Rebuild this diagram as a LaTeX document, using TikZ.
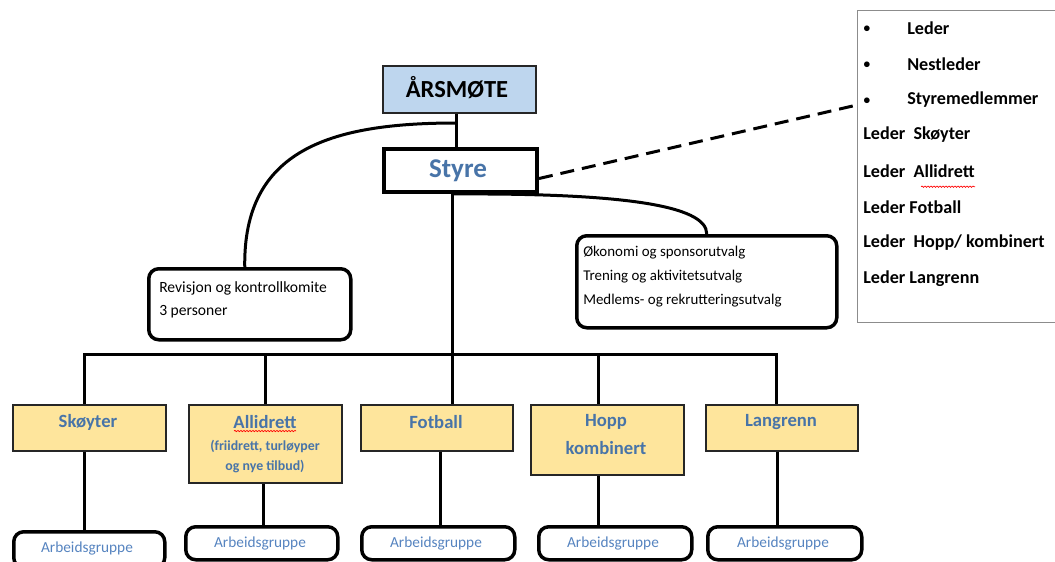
\documentclass[tikz,border=0pt]{standalone}
\usepackage{fontspec}
\setmainfont{Carlito}
\usetikzlibrary{decorations.pathmorphing}
\newdimen\px \px=0.75pt
\definecolor{tblue}{RGB}{72,116,168}
\definecolor{lblue}{RGB}{86,132,192}
\definecolor{afill}{RGB}{190,214,238}
\definecolor{yfill}{RGB}{254,229,156}
\newcommand{\fsz}[1]{\fontsize{#1}{#1}\selectfont}
\begin{document}
\begin{tikzpicture}[x=0.75pt,y=-0.75pt,
  plainbox/.style={rectangle, draw=black!85, line width=1.5\px, inner sep=0pt, anchor=north west},
  aarsbox/.style={plainbox, fill=afill},
  ybox/.style={plainbox, fill=yfill},
  styrebox/.style={rectangle, draw=black, line width=4\px, inner sep=0pt, anchor=north west, fill=white},
  rbox/.style={rectangle, draw=black, line width=3.5\px, rounded corners=10\px, inner sep=0pt, anchor=north west, fill=white},
  agbox/.style={rbox, minimum height=33\px},
  conn/.style={line width=3\px, black},
  ytext/.style={font=\fsz{14}\bfseries, text=tblue, inner sep=0pt},
  ysub/.style={font={\fontsize{10.4}{15}\selectfont\bfseries}, text=tblue, inner sep=0pt, align=center},
  agtext/.style={font=\fsz{11.5}, text=lblue, inner sep=0pt},
  ptext/.style={font=\fsz{13.6}\bfseries, inner sep=0pt, anchor=west},
  bul/.style={font=\fsz{10}\bfseries, inner sep=0pt},
  spell/.style={red, line width=0.5pt, decorate, decoration={snake, amplitude=0.7\px, segment length=3\px}}
]
\useasboundingbox (0,0) rectangle (1055,561);

% ---------- x positions of the vertical connectors ----------
\coordinate (xa) at (456,0);
\coordinate (xs) at (452,0);
\coordinate (x1) at (84,0);
\coordinate (x2) at (265,0);
\coordinate (x2b) at (263,0);
\coordinate (x3b) at (440,0);
\coordinate (x4) at (598,0);
\coordinate (x5) at (776,0);
\coordinate (x5b) at (777,0);

% ---------- top ----------
\node[aarsbox, minimum width=153\px, minimum height=47\px] (aars) at (382,65) {};
\node[font=\fsz{18.4}\bfseries, inner sep=0pt] (aarst) at (457,88) {ÅRSMØTE};

\node[styrebox, minimum width=153\px, minimum height=43\px] (styre) at (382,147) {};
\node[font=\fsz{20.3}\bfseries, text=tblue, inner sep=0pt] (styret) at (458,171) {Styre};

\coordinate (j1) at (456,123);
\draw[conn] (aars.south -| xa) -- (styre.north -| xa);

% ---------- committees ----------
\node[rbox, minimum width=202\px, minimum height=71\px] (rev) at (147,267) {};
\node[inner sep=0pt, anchor=west, align=left, font={\fontsize{11.7}{17.25}\selectfont}] (revt) at (159,300)
  {Revisjon og kontrollkomite\\3 personer};

\node[rbox, minimum width=260\px, minimum height=92\px] (eko) at (575,234) {};
\node[inner sep=0pt, anchor=west, align=left, font={\fontsize{11.2}{18}\selectfont}] (ekot) at (583,277)
  {Økonomi og sponsorutvalg\\Trening og aktivitetsutvalg\\Medlems- og rekrutteringsutvalg};

\draw[conn] (j1) .. controls (330,123) and (243,150) .. ([xshift=-5\px]rev.north);
\draw[conn] (styre.south -| xs) .. controls (620,193) and (707,205) .. (eko.north);

% ---------- right panel ----------
\node[rectangle, draw=black!45, line width=1\px, inner sep=0pt, anchor=north west,
      minimum width=205\px, minimum height=312\px] (panel) at (857,10) {};
\node[bul] (b1) at (867,29) {•};
\node[ptext] (p1) at (907,28) {Leder};
\node[bul] (b2) at (867,65) {•};
\node[ptext] (p2) at (907,64) {Nestleder};
\node[bul] (b3) at (867,101) {•};
\node[ptext] (p3) at (907,100) {Styremedlemmer};
\node[ptext] (p4) at (863,135) {Leder\space\space Skøyter};
\node[ptext] (p5) at (863,171) {Leder\space\space Allidrett};
\node[ptext] (p6) at (863,207) {Leder Fotball};
\node[ptext] (p7) at (863,243) {Leder\space\space Hopp/ kombinert};
\node[ptext] (p8) at (863,279) {Leder Langrenn};
\draw[spell] ([yshift=-9\px]p5.south east) ++(-54\px,0) -- ++(54\px,0);

\coordinate (dashend) at (857,105);
\draw[conn, dash pattern=on 14\px off 8\px] ([yshift=-8\px]styre.east) -- (dashend);

% ---------- sports ----------
\node[ybox, minimum width=153\px, minimum height=46\px] (sk) at (12,404) {};
\node[ytext] (skt) at (88,422) {Skøyter};
\node[ybox, minimum width=153\px, minimum height=78\px] (al) at (188,404) {};
\node[ytext] (alt) at (265,422) {Allidrett};
\node[ysub] (als) at (265,457) {(friidrett, turløyper\\og nye tilbud)};
\draw[spell] (234,431) -- (296,431);
\node[ybox, minimum width=152\px, minimum height=46\px] (fo) at (360,404) {};
\node[ytext] (fot) at (436,422) {Fotball};
\node[ybox, minimum width=153\px, minimum height=70\px] (ho) at (530,404) {};
\node[ytext] (hot) at (606,422) {Hopp};
\node[ytext] (hot2) at (606,448) {kombinert};
\node[ybox, minimum width=152\px, minimum height=46\px] (la) at (705,404) {};
\node[ytext] (lat) at (781,422) {Langrenn};

% bus
\coordinate (busL) at (84,354);
\coordinate (busR) at (776,354);
\draw[conn] (sk.north -| x1) -- (busL) -- (busR) -- (la.north -| x5);
\draw[conn] (styre.south -| xs) -- (fo.north -| xs);
\draw[conn] (busL -| x2) -- (al.north -| x2);
\draw[conn] (busL -| x4) -- (ho.north -| x4);

% ---------- work groups ----------
\node[agbox, minimum width=151\px, minimum height=36\px] (ag1) at (12,530) {};
\node[agtext] (ag1t) at (87,548) {Arbeidsgruppe};
\node[agbox, minimum width=152\px] (ag2) at (184,525) {};
\node[agtext] (ag2t) at (260,543) {Arbeidsgruppe};
\node[agbox, minimum width=153\px] (ag3) at (360,525) {};
\node[agtext] (ag3t) at (436,543) {Arbeidsgruppe};
\node[agbox, minimum width=153\px] (ag4) at (537,525) {};
\node[agtext] (ag4t) at (613,543) {Arbeidsgruppe};
\node[agbox, minimum width=154\px] (ag5) at (706,525) {};
\node[agtext] (ag5t) at (783,543) {Arbeidsgruppe};

\draw[conn] (sk.south -| x1) -- (ag1.north -| x1);
\draw[conn] (al.south -| x2b) -- (ag2.north -| x2b);
\draw[conn] (fo.south -| x3b) -- (ag3.north -| x3b);
\draw[conn] (ho.south -| x4) -- (ag4.north -| x4);
\draw[conn] (la.south -| x5b) -- (ag5.north -| x5b);
\end{tikzpicture}
\end{document}
